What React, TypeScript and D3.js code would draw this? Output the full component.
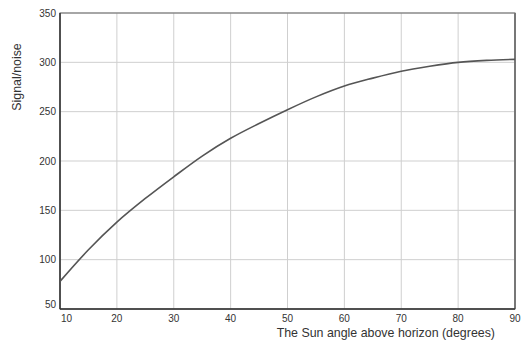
import React from "react";
import * as d3 from "d3";

const angles = [10, 15, 20, 25, 30, 35, 40, 45, 50, 55, 60, 65, 70, 75, 80, 85, 90];
const snr = [78, 110, 138, 162, 184, 205, 223, 238, 252, 265, 276, 284, 291, 296, 300, 302, 303];
const xTicks = [10, 20, 30, 40, 50, 60, 70, 80, 90];
const yTicks = [50, 100, 150, 200, 250, 300, 350];

export default function App() {
  const width = 521,
    height = 345;
  const margin = { left: 60, right: 6, top: 13, bottom: 36 };
  const x = d3
    .scaleLinear()
    .domain([10, 90])
    .range([margin.left, width - margin.right]);
  const y = d3
    .scaleLinear()
    .domain([50, 350])
    .range([height - margin.bottom, margin.top]);

  const line = d3
    .line<number>()
    .x((d, i) => x(angles[i]))
    .y((d) => y(d))
    .curve(d3.curveMonotoneX);

  const font = "'Liberation Sans', Arial, sans-serif";

  return (
    <svg
      width={width}
      height={height}
      style={{ position: "absolute", left: 0, top: 0, background: "#fff" }}
    >
      <rect x={0} y={0} width={width} height={height} fill="#fff" />
      {/* grid */}
      {xTicks.map((t) => (
        <line
          key={"gx" + t}
          x1={x(t)}
          x2={x(t)}
          y1={y(350)}
          y2={y(50)}
          stroke="#cfcfcf"
          strokeWidth={1}
        />
      ))}
      {yTicks.map((t) => (
        <line
          key={"gy" + t}
          x1={x(10)}
          x2={x(90)}
          y1={y(t)}
          y2={y(t)}
          stroke="#cfcfcf"
          strokeWidth={1}
        />
      ))}
      {/* frame */}
      <rect
        x={x(10)}
        y={y(350)}
        width={x(90) - x(10)}
        height={y(50) - y(350)}
        fill="none"
        stroke="#666"
        strokeWidth={1}
      />
      <line x1={x(90)} x2={x(90)} y1={y(350)} y2={y(50)} stroke="#777" strokeWidth={2} />
      <line x1={x(10)} x2={x(10)} y1={y(350)} y2={y(50)} stroke="#333" strokeWidth={1.5} />
      <line x1={x(10)} x2={x(90)} y1={y(50)} y2={y(50)} stroke="#333" strokeWidth={1.5} />
      {/* data line */}
      <path d={line(snr) || ""} fill="none" stroke="#555" strokeWidth={1.6} />
      {/* y tick labels */}
      {yTicks.map((t) => (
        <text
          key={"ty" + t}
          x={x(10) - 4}
          y={y(t) + (t === 50 ? -1 : 3.5)}
          textAnchor="end"
          fontSize={10}
          fontFamily={font}
          fill="#333"
        >
          {t}
        </text>
      ))}
      {/* x tick labels */}
      {xTicks.map((t, i) => (
        <text
          key={"tx" + t}
          x={i === 0 ? x(t) + 1 : x(t)}
          y={y(50) + 13}
          textAnchor={i === 0 ? "start" : "middle"}
          fontSize={10}
          fontFamily={font}
          fill="#333"
        >
          {t}
        </text>
      ))}
      <text
        x={495}
        y={337}
        textAnchor="end"
        fontSize={12.4}
        fontFamily={font}
        fill="#333"
      >
        The Sun angle above horizon (degrees)
      </text>
      <text
        transform="translate(21,77) rotate(-90)"
        textAnchor="middle"
        fontSize={12.4}
        fontFamily={font}
        fill="#333"
      >
        Signal/noise
      </text>
    </svg>
  );
}
